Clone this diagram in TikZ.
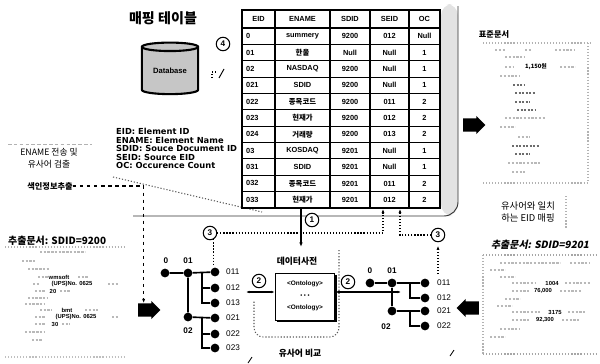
\documentclass[tikz,border=0pt]{standalone}
\usepackage{fontspec}
\setmainfont{Liberation Sans}
\newfontfamily\kr{Noto Sans CJK KR}
\newfontfamily\krsl{Noto Sans CJK KR}[FakeSlant=0.2]
\newfontfamily\legfont{DejaVu Sans}
\usetikzlibrary{shapes.geometric,shapes.arrows,arrows.meta,calc,shadows}
\begin{document}
\begin{tikzpicture}[x=0.03cm,y=-0.03cm,
  dotn/.style={circle,fill=black,inner sep=0pt,minimum size=7.5pt},
  tl/.style={line width=1.4pt},
  cnum/.style={circle,draw,line width=0.9pt,fill=white,inner sep=0pt,minimum size=11.5pt,font=\bfseries\fontsize{7}{7}\selectfont},
  dotl/.style={line width=0.9pt,dash pattern=on 1pt off 1.6pt},
  dashl/.style={line width=0.9pt,dash pattern=on 3pt off 3pt},
  fatarrow/.style={single arrow,fill=black,inner xsep=0pt,inner ysep=5.5pt,minimum height=19pt,minimum width=15pt,single arrow head extend=2pt},
  scrib/.style={gray!55,line width=1pt,dash pattern=on 2pt off 1.2pt},
  dscrib/.style={gray!85!black,line width=1.1pt,dash pattern=on 2pt off 1pt},
  cell/.style={font=\bfseries\fontsize{6.3}{7}\selectfont,inner sep=0pt},
  leaflab/.style={font=\fontsize{7}{7}\selectfont,anchor=west,inner sep=0pt},
  tlab/.style={font=\bfseries\fontsize{7}{7}\selectfont,inner sep=0pt},
  smallb/.style={font=\bfseries\fontsize{5}{6}\selectfont,inner sep=0pt}
]
\useasboundingbox[fill=white] (0,0) rectangle (600,363);

% ---------- mapping table region ----------
\fill[gray!22,rounded corners=10pt] (441,4) rectangle (458,216);
\draw[line width=0.8pt,black!80,rounded corners=12pt] (133,216) -- (458,216) -- (458,6);
\draw[dotl,gray!70!black] (113,177) -- (262,212);

\node[font=\kr\bfseries\fontsize{12}{13}\selectfont,inner sep=0pt] (title) at (163,18) {매핑 테이블};

\node[cylinder,shape border rotate=90,draw,line width=1.8pt,fill=gray!45,aspect=0.25,
      minimum width=48pt,minimum height=44pt,inner sep=0pt,
      font=\bfseries\fontsize{6.5}{7}\selectfont] (db) at (170,71) {Database};

\node[cnum] (c4) at (223,44) {4};
\draw[dotl] (212,78) -- (212,72) -- (217,72);
\draw[line width=0.8pt] (219,78) -- (224,69);

% table
\fill[white] (242,10) rectangle (440,208);
\foreach \i in {1,...,10} \draw[line width=0.8pt] (242,{28+\i*16.364}) -- (440,{28+\i*16.364});
\draw[line width=1.1pt] (242,28) -- (440,28);
\foreach \x in {275,330,370,409} \draw[line width=1pt] (\x,10) -- (\x,208);
\draw[line width=1.6pt] (242,10) rectangle (440,208);

\node[cell] (h1) at (258.5,19) {EID};
\node[cell] (h2) at (302.5,19) {ENAME};
\node[cell] (h3) at (350,19) {SDID};
\node[cell] (h4) at (389.5,19) {SEID};
\node[cell] (h5) at (424.5,19) {OC};
\foreach \i/\a/\b/\c/\d/\e in {
  1/0/summery/9200/012/Null,
  2/01/{\kr 한울}/Null/Null/1,
  3/02/NASDAQ/9200/Null/1,
  4/021/SDID/9200/Null/1,
  5/022/{\kr 종목코드}/9200/011/2,
  6/023/{\kr 현재가}/9200/012/2,
  7/024/{\kr 거래량}/9200/013/2,
  8/03/KOSDAQ/9201/Null/1,
  9/031/SDID/9201/Null/1,
  10/032/{\kr 종목코드}/9201/011/2,
  11/033/{\kr 현재가}/9201/012/2}
{
  \pgfmathsetmacro\yc{28+(\i-0.5)*16.364}
  \node[cell,anchor=west] (r\i c1) at (246,\yc) {\a};
  \node[cell] (r\i c2) at (302.5,\yc) {\b};
  \node[cell] (r\i c3) at (350,\yc) {\c};
  \node[cell] (r\i c4) at (389.5,\yc) {\d};
  \node[cell] (r\i c5) at (424.5,\yc) {\e};
}

% legend
\node[align=left,anchor=north west,inner sep=0pt,font=\legfont\bfseries\fontsize{7.1}{7.3}\selectfont] (legend) at (116,128)
  {EID: Element ID\\ENAME: Element Name\\SDID: Souce Document ID\\SEID: Source EID\\OC: Occurence Count};

% left labels
\draw[gray!60,line width=0.7pt,dash pattern=on 3pt off 2pt] (8,144) -- (92,144);
\node[align=center,inner sep=0pt,font=\kr\fontsize{7.5}{10.5}\selectfont] (ename) at (49,158) {ENAME 전송 및\\유사어 검출};
\node[inner sep=0pt,font=\kr\bfseries\fontsize{7}{8}\selectfont] (idx) at (50,186) {색인정보추출};
\node[inner sep=0pt,anchor=west,font=\kr\bfseries\fontsize{8.5}{9}\selectfont] (ldtitle) at (8,241) {추출문서: SDID=9200};

% fat arrows
\node[fatarrow] (farL) at (146,310) {};
\node[fatarrow,shape border rotate=180] (farR) at (471,308) {};
\node[fatarrow] (farT) at (471,125) {};

\draw[dashl,-{Latex[length=3.5pt]}] (idx.east) -| ([xshift=-2pt]farL.north);

% circled numbers
\node[cnum] (c1) at (312,220) {1};
\node[cnum] (c3L) at (210,233) {3};
\node[cnum] (c3R) at (438,235) {3};
\node[cnum] (c2L) at (259,281) {2};
\node[cnum] (c2R) at (348,282) {2};

\coordinate (tb1) at (301,208);
\coordinate (tb2) at (383,209);
\coordinate (tb3) at (400,209);
\draw[tl,-{Latex[length=4pt]}] (tb1) -- (301,247);
\draw[dotl,-{Latex[length=3.5pt]}] (c3L.east) -| (tb2);
\draw[dotl,-{Latex[length=3.5pt]}] (c3R.west) -| (tb3);
\draw[dotl] (c3L.-60) -- ++(0,26);
\draw[dotl,-{Latex[length=3.5pt]},shorten >=3pt] (c3R.south |- 0,274) -- (c3R.south);

% data dictionary
\node[inner sep=0pt,font=\kr\bfseries\fontsize{7.5}{8}\selectfont] (dtitle) at (297,261) {데이터사전};
\node[draw,line width=0.8pt,fill=white,minimum width=51pt,minimum height=40pt,inner sep=0pt,
      drop shadow={shadow xshift=1.6pt,shadow yshift=-1.6pt,fill=black,opacity=1}] (dict) at (305,297) {};
\node[smallb,font=\bfseries\fontsize{5.5}{6}\selectfont] (ont1) at (305,284) {<Ontology>};
\node[inner sep=0pt,font=\fontsize{5}{5}\selectfont] (ontd) at (305,296) {\textbullet\ \textbullet\ \textbullet};
\node[smallb,font=\bfseries\fontsize{5.5}{6}\selectfont] (ont2) at (305,308) {<Ontology>};
\draw[dotl,gray!70!black,rounded corners=8pt] (339,250) -- (339,337) -- (254,337) -- (254,300);
\node[inner sep=0pt,font=\kr\bfseries\fontsize{7.5}{8}\selectfont] (simcmp) at (300,353) {유사어 비교};
\draw[line width=0.7pt] (248,363) -- (252,357);
\draw[line width=0.7pt] (450,356) -- (454,350);

\coordinate (daL) at (246,292);
\draw[tl,{Latex[length=3pt]}-{Latex[length=3pt]}] (daL) -- (dict.west |- daL);
\coordinate (daR) at (401,292);
\draw[tl,{Latex[length=3.5pt]}-{Latex[length=3pt]}] (dict.east |- daR) -- (daR);

% left tree
\node[dotn] (L0) at (165,273) {};
\node[dotn] (L01) at (188,273) {};
\node[dotn] (L02) at (188,317) {};
\foreach \n/\y in {011/272,012/288,013/303,021/318,022/334,023/348}{
  \node[dotn] (L\n) at (215,\y) {};
  \node[leaflab] (lL\n) at (226,\y) {\n};
}
\draw[tl] (L0) -- (L01) -- (L011);
\draw[tl] (L01) -- (L02) -- (L021);
\draw[tl] (202,273) |- (L012);
\draw[tl] (202,273) |- (L013);
\draw[tl] (202,317) |- (L022);
\draw[tl] (202,317) |- (L023);
\node[tlab] (lL0) at (166,261) {0};
\node[tlab] (lL01) at (188,261) {01};
\node[tlab] (lL02) at (188,331) {02};

% right tree
\node[dotn] (R0) at (370,283) {};
\node[dotn] (R01) at (392,283) {};
\node[dotn] (R02) at (392,311) {};
\foreach \n/\y in {011/283,012/298,021/311,022/326}{
  \node[dotn] (R\n) at (425,\y) {};
  \node[leaflab] (lR\n) at (437,\y) {\n};
}
\draw[tl] (R0) -- (R01) -- (R011);
\draw[tl] (R01) -- (R02) -- (R021);
\draw[tl] (410,283) |- (R012);
\draw[tl] (410,311) |- (R022);
\node[tlab] (lR0) at (370,271) {0};
\node[tlab] (lR01) at (392,271) {01};
\node[tlab] (lR02) at (386,327) {02};

% right labels
\node[align=center,inner sep=0pt,font=\kr\fontsize{8}{11}\selectfont] (match) at (528,212) {유사어와 일치\\하는 EID 매핑};
\draw[dotl,gray!60] (566,196) -- (566,228);
\node[inner sep=0pt,font=\krsl\bfseries\fontsize{8.5}{9}\selectfont] (rdtitle) at (540,245) {추출문서: SDID=9201};
\node[inner sep=0pt,font=\kr\bfseries\fontsize{7}{8}\selectfont] (stdtitle) at (494,34) {표준문서};

% ---------- left document ----------
\draw[dotl,gray!60] (5,247) -- (125,247);
\draw[scrib] (40,252) -- (85,252);
\draw[scrib] (22,261) -- (35,261);
\draw[scrib] (28,269) -- (50,269);
\draw[scrib] (38,277) -- (48,277); \draw[scrib] (78,277) -- (88,277);
\node[smallb] (w1) at (59,277) {wmsoft};
\draw[scrib] (33,284) -- (40,284); \draw[scrib] (108,284) -- (118,284);
\node[smallb] (w2) at (72,284) {(UPS)No. 0625};
\draw[scrib] (35,291) -- (45,291); \draw[scrib] (60,291) -- (70,291);
\node[smallb] (w3) at (53,291) {20};
\draw[scrib] (28,298) -- (48,298);
\draw[scrib] (25,304) -- (45,304);
\draw[scrib] (40,310) -- (52,310); \draw[scrib] (85,310) -- (98,310);
\node[smallb] (w4) at (67,310) {bmt};
\draw[scrib] (35,317) -- (45,317); \draw[scrib] (112,317) -- (118,317);
\node[smallb] (w5) at (76,317) {(UPS)No. 0625};
\draw[scrib] (35,324) -- (45,324); \draw[scrib] (62,324) -- (70,324);
\node[smallb] (w6) at (55,324) {30};
\draw[scrib] (25,332) -- (45,332);
\draw[scrib] (32,340) -- (42,340);
\draw[dotl,gray!50] (5,357) -- (125,357);

% ---------- right document ----------
\draw[dotl,gray!70] (483,255) -- (598,255);
\draw[dotl,gray!60] (483,255) -- (483,354);
\draw[dotl,gray!70] (483,354) -- (598,354);
\draw[scrib] (500,263) -- (560,263); \draw[scrib] (570,263) -- (590,263);
\draw[scrib] (490,270) -- (505,270);
\draw[scrib] (500,277) -- (515,277);
\draw[scrib] (512,283) -- (535,283); \draw[scrib] (565,283) -- (590,283);
\node[smallb] (v1) at (552,283) {1004};
\draw[scrib] (512,291) -- (530,291); \draw[scrib] (560,291) -- (582,291);
\node[smallb] (v2) at (543,291) {76,000};
\draw[scrib] (505,299) -- (520,299);
\draw[scrib] (497,306) -- (512,306);
\draw[scrib] (512,312) -- (540,312); \draw[scrib] (568,312) -- (585,312);
\node[smallb] (v3) at (555,312) {3175};
\draw[scrib] (512,320) -- (530,320); \draw[scrib] (562,320) -- (580,320);
\node[smallb] (v4) at (545,320) {92,300};
\draw[scrib] (500,329) -- (520,329);
\draw[scrib] (490,337) -- (505,337);

% ---------- standard document ----------
\draw[dotl,gray!60] (483,43) -- (590,43);
\draw[dotl,gray!60] (588,43) -- (588,183);
\draw[dotl,gray!60] (483,183) -- (588,183);
\draw[scrib] (495,50) -- (505,50); \draw[scrib] (525,50) -- (532,50); \draw[scrib] (555,50) -- (575,50);
\draw[scrib] (505,57) -- (525,57);
\draw[scrib] (505,67) -- (514,67); \draw[scrib] (560,67) -- (575,67);
\node[smallb,font=\kr\bfseries\fontsize{5}{6}\selectfont] (s1) at (536,67) {1,150원};
\draw[scrib] (500,76) -- (520,76);
\draw[dscrib] (513,85) -- (525,85);
\draw[dscrib] (515,93) -- (535,93);
\draw[dscrib] (515,102) -- (530,102);
\draw[dscrib] (517,110) -- (535,110);
\draw[scrib] (505,118) -- (545,118);
\draw[scrib] (500,127) -- (515,127);
\draw[scrib] (518,137) -- (530,137);
\draw[dscrib] (512,146) -- (540,146);
\draw[dscrib] (515,154) -- (530,154);
\draw[scrib] (508,163) -- (540,163);
\draw[scrib] (512,172) -- (525,172);
\end{tikzpicture}
\end{document}
